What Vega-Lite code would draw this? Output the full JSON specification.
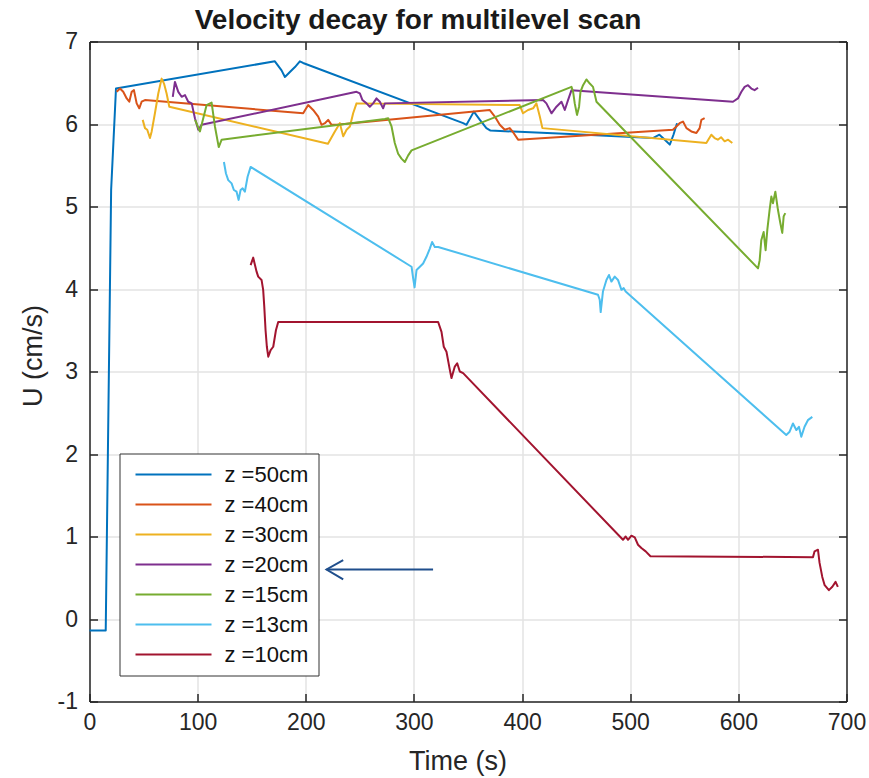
{
  "$schema": "https://vega.github.io/schema/vega-lite/v6.json",
  "autosize": {"type": "none"},
  "width": 757,
  "height": 660,
  "padding": {"left": 89.5, "top": 41.5, "right": 22, "bottom": 76},
  "background": "white",
  "title": {
    "text": "Velocity decay for multilevel scan",
    "font": "Liberation Sans",
    "fontSize": 28,
    "fontWeight": "bold",
    "color": "#1a1a1a",
    "anchor": "middle",
    "dx": -50,
    "dy": 12,
    "offset": 8
  },
  "datasets": {
    "scan": [
      {"z": "z =50cm", "t": 0, "u": -0.14}, {"z": "z =50cm", "t": 15, "u": -0.14}, {"z": "z =50cm", "t": 17, "u": 2.0}, {"z": "z =50cm", "t": 20, "u": 5.2}, {"z": "z =50cm", "t": 24.5, "u": 6.43},
      {"z": "z =50cm", "t": 171.4, "u": 6.76}, {"z": "z =50cm", "t": 177.6, "u": 6.65}, {"z": "z =50cm", "t": 180.7, "u": 6.57}, {"z": "z =50cm", "t": 185.3, "u": 6.63}, {"z": "z =50cm", "t": 190, "u": 6.69},
      {"z": "z =50cm", "t": 194.5, "u": 6.76}, {"z": "z =50cm", "t": 197.5, "u": 6.74}, {"z": "z =50cm", "t": 345.5, "u": 6.01}, {"z": "z =50cm", "t": 348.6, "u": 5.99}, {"z": "z =50cm", "t": 355.4, "u": 6.15},
      {"z": "z =50cm", "t": 361, "u": 6.05}, {"z": "z =50cm", "t": 367, "u": 5.95}, {"z": "z =50cm", "t": 370.8, "u": 5.92}, {"z": "z =50cm", "t": 444, "u": 5.88}, {"z": "z =50cm", "t": 521, "u": 5.83},
      {"z": "z =50cm", "t": 527, "u": 5.87}, {"z": "z =50cm", "t": 532, "u": 5.81}, {"z": "z =50cm", "t": 536.6, "u": 5.75}, {"z": "z =50cm", "t": 540, "u": 5.87}, {"z": "z =50cm", "t": 543.3, "u": 6.01},

      {"z": "z =40cm", "t": 25.1, "u": 6.39}, {"z": "z =40cm", "t": 28.2, "u": 6.43}, {"z": "z =40cm", "t": 31.2, "u": 6.39}, {"z": "z =40cm", "t": 34.4, "u": 6.31}, {"z": "z =40cm", "t": 36.8, "u": 6.27},
      {"z": "z =40cm", "t": 39, "u": 6.39}, {"z": "z =40cm", "t": 41.1, "u": 6.41}, {"z": "z =40cm", "t": 43.6, "u": 6.25}, {"z": "z =40cm", "t": 46, "u": 6.19}, {"z": "z =40cm", "t": 48.2, "u": 6.27},
      {"z": "z =40cm", "t": 51.3, "u": 6.29}, {"z": "z =40cm", "t": 197.6, "u": 6.13}, {"z": "z =40cm", "t": 202.2, "u": 6.23}, {"z": "z =40cm", "t": 206.8, "u": 6.17}, {"z": "z =40cm", "t": 211.5, "u": 6.09},
      {"z": "z =40cm", "t": 214.6, "u": 5.99}, {"z": "z =40cm", "t": 217.7, "u": 6.01}, {"z": "z =40cm", "t": 220.7, "u": 6.05}, {"z": "z =40cm", "t": 223.8, "u": 5.99}, {"z": "z =40cm", "t": 228.5, "u": 5.99},
      {"z": "z =40cm", "t": 370, "u": 6.17}, {"z": "z =40cm", "t": 374.8, "u": 6.09}, {"z": "z =40cm", "t": 379.4, "u": 5.99}, {"z": "z =40cm", "t": 384, "u": 5.93}, {"z": "z =40cm", "t": 388.6, "u": 5.95},
      {"z": "z =40cm", "t": 391.7, "u": 5.9}, {"z": "z =40cm", "t": 396.3, "u": 5.81}, {"z": "z =40cm", "t": 539.5, "u": 5.93}, {"z": "z =40cm", "t": 542.7, "u": 5.97}, {"z": "z =40cm", "t": 545.7, "u": 6.01},
      {"z": "z =40cm", "t": 548.8, "u": 6.03}, {"z": "z =40cm", "t": 552, "u": 5.95}, {"z": "z =40cm", "t": 556.5, "u": 5.91}, {"z": "z =40cm", "t": 561.2, "u": 5.89}, {"z": "z =40cm", "t": 564.2, "u": 5.95},
      {"z": "z =40cm", "t": 565.8, "u": 6.05}, {"z": "z =40cm", "t": 568.8, "u": 6.07},

      {"z": "z =30cm", "t": 49.2, "u": 6.05}, {"z": "z =30cm", "t": 51.3, "u": 5.95}, {"z": "z =30cm", "t": 53.4, "u": 5.93}, {"z": "z =30cm", "t": 55.9, "u": 5.83}, {"z": "z =30cm", "t": 57.5, "u": 5.91},
      {"z": "z =30cm", "t": 60.5, "u": 6.13}, {"z": "z =30cm", "t": 63.6, "u": 6.37}, {"z": "z =30cm", "t": 66.7, "u": 6.55}, {"z": "z =30cm", "t": 68.9, "u": 6.49}, {"z": "z =30cm", "t": 71.3, "u": 6.37},
      {"z": "z =30cm", "t": 73.8, "u": 6.21}, {"z": "z =30cm", "t": 220.5, "u": 5.76}, {"z": "z =30cm", "t": 226.9, "u": 5.91}, {"z": "z =30cm", "t": 231.5, "u": 6.01}, {"z": "z =30cm", "t": 234.6, "u": 5.85},
      {"z": "z =30cm", "t": 237.7, "u": 5.93}, {"z": "z =30cm", "t": 240.8, "u": 5.97}, {"z": "z =30cm", "t": 243.8, "u": 6.13}, {"z": "z =30cm", "t": 246.9, "u": 6.25}, {"z": "z =30cm", "t": 397.8, "u": 6.23},
      {"z": "z =30cm", "t": 400.9, "u": 6.13}, {"z": "z =30cm", "t": 405.5, "u": 6.17}, {"z": "z =30cm", "t": 410.2, "u": 6.19}, {"z": "z =30cm", "t": 413.3, "u": 6.25}, {"z": "z =30cm", "t": 416.4, "u": 6.09},
      {"z": "z =30cm", "t": 418.8, "u": 5.95}, {"z": "z =30cm", "t": 570.4, "u": 5.77}, {"z": "z =30cm", "t": 575, "u": 5.87}, {"z": "z =30cm", "t": 578, "u": 5.83}, {"z": "z =30cm", "t": 581, "u": 5.81},
      {"z": "z =30cm", "t": 584, "u": 5.84}, {"z": "z =30cm", "t": 587.3, "u": 5.79}, {"z": "z =30cm", "t": 590.5, "u": 5.81}, {"z": "z =30cm", "t": 594.4, "u": 5.77},

      {"z": "z =20cm", "t": 77, "u": 6.33}, {"z": "z =20cm", "t": 79, "u": 6.51}, {"z": "z =20cm", "t": 82.1, "u": 6.39}, {"z": "z =20cm", "t": 85.2, "u": 6.33}, {"z": "z =20cm", "t": 88.3, "u": 6.35},
      {"z": "z =20cm", "t": 91.3, "u": 6.27}, {"z": "z =20cm", "t": 94.5, "u": 6.25}, {"z": "z =20cm", "t": 97.5, "u": 6.07}, {"z": "z =20cm", "t": 100.6, "u": 5.93}, {"z": "z =20cm", "t": 103.7, "u": 5.99},
      {"z": "z =20cm", "t": 246.9, "u": 6.39}, {"z": "z =20cm", "t": 250, "u": 6.37}, {"z": "z =20cm", "t": 252.4, "u": 6.29}, {"z": "z =20cm", "t": 256.2, "u": 6.25}, {"z": "z =20cm", "t": 259.2, "u": 6.21},
      {"z": "z =20cm", "t": 262.3, "u": 6.25}, {"z": "z =20cm", "t": 265.4, "u": 6.31}, {"z": "z =20cm", "t": 268.5, "u": 6.27}, {"z": "z =20cm", "t": 271.5, "u": 6.19}, {"z": "z =20cm", "t": 273.1, "u": 6.25},
      {"z": "z =20cm", "t": 419.4, "u": 6.29}, {"z": "z =20cm", "t": 422.5, "u": 6.25}, {"z": "z =20cm", "t": 427.2, "u": 6.13}, {"z": "z =20cm", "t": 431.8, "u": 6.21}, {"z": "z =20cm", "t": 436.4, "u": 6.27},
      {"z": "z =20cm", "t": 439.5, "u": 6.17}, {"z": "z =20cm", "t": 442.5, "u": 6.29}, {"z": "z =20cm", "t": 445.7, "u": 6.41}, {"z": "z =20cm", "t": 595, "u": 6.27}, {"z": "z =20cm", "t": 599.6, "u": 6.31},
      {"z": "z =20cm", "t": 602.8, "u": 6.39}, {"z": "z =20cm", "t": 605.8, "u": 6.45}, {"z": "z =20cm", "t": 608.9, "u": 6.47}, {"z": "z =20cm", "t": 612, "u": 6.43}, {"z": "z =20cm", "t": 615, "u": 6.41},
      {"z": "z =20cm", "t": 618.2, "u": 6.44},

      {"z": "z =15cm", "t": 97.6, "u": 6.05}, {"z": "z =15cm", "t": 102.1, "u": 5.91}, {"z": "z =15cm", "t": 108.3, "u": 6.23}, {"z": "z =15cm", "t": 112.9, "u": 6.26}, {"z": "z =15cm", "t": 116, "u": 5.97},
      {"z": "z =15cm", "t": 119.5, "u": 5.72}, {"z": "z =15cm", "t": 122.2, "u": 5.81}, {"z": "z =15cm", "t": 273.1, "u": 6.06}, {"z": "z =15cm", "t": 276.2, "u": 6.07}, {"z": "z =15cm", "t": 279.3, "u": 5.97},
      {"z": "z =15cm", "t": 282.3, "u": 5.77}, {"z": "z =15cm", "t": 285.4, "u": 5.64}, {"z": "z =15cm", "t": 288.5, "u": 5.58}, {"z": "z =15cm", "t": 291.6, "u": 5.54}, {"z": "z =15cm", "t": 294.7, "u": 5.62},
      {"z": "z =15cm", "t": 297.8, "u": 5.68}, {"z": "z =15cm", "t": 445.7, "u": 6.45}, {"z": "z =15cm", "t": 447.2, "u": 6.39}, {"z": "z =15cm", "t": 448.7, "u": 6.25}, {"z": "z =15cm", "t": 450.8, "u": 6.11},
      {"z": "z =15cm", "t": 452.7, "u": 6.21}, {"z": "z =15cm", "t": 454, "u": 6.39}, {"z": "z =15cm", "t": 456.4, "u": 6.47}, {"z": "z =15cm", "t": 459.5, "u": 6.54}, {"z": "z =15cm", "t": 462.6, "u": 6.49},
      {"z": "z =15cm", "t": 465.6, "u": 6.45}, {"z": "z =15cm", "t": 468.8, "u": 6.27}, {"z": "z =15cm", "t": 618.2, "u": 4.25}, {"z": "z =15cm", "t": 619.7, "u": 4.35}, {"z": "z =15cm", "t": 621.2, "u": 4.59},
      {"z": "z =15cm", "t": 623.4, "u": 4.69}, {"z": "z =15cm", "t": 625.2, "u": 4.47}, {"z": "z =15cm", "t": 626.8, "u": 4.72}, {"z": "z =15cm", "t": 628.9, "u": 4.96}, {"z": "z =15cm", "t": 630.5, "u": 5.12},
      {"z": "z =15cm", "t": 632, "u": 5.04}, {"z": "z =15cm", "t": 634.2, "u": 5.18}, {"z": "z =15cm", "t": 636.6, "u": 4.96}, {"z": "z =15cm", "t": 638.8, "u": 4.8}, {"z": "z =15cm", "t": 640.6, "u": 4.68},
      {"z": "z =15cm", "t": 641.9, "u": 4.88}, {"z": "z =15cm", "t": 643.4, "u": 4.92},

      {"z": "z =13cm", "t": 124.3, "u": 5.54}, {"z": "z =13cm", "t": 126.2, "u": 5.4}, {"z": "z =13cm", "t": 128.3, "u": 5.32}, {"z": "z =13cm", "t": 131.4, "u": 5.28}, {"z": "z =13cm", "t": 133.5, "u": 5.2},
      {"z": "z =13cm", "t": 136, "u": 5.18}, {"z": "z =13cm", "t": 137.9, "u": 5.08}, {"z": "z =13cm", "t": 139.7, "u": 5.2}, {"z": "z =13cm", "t": 141.6, "u": 5.22}, {"z": "z =13cm", "t": 143.7, "u": 5.18},
      {"z": "z =13cm", "t": 146.2, "u": 5.36}, {"z": "z =13cm", "t": 149, "u": 5.48}, {"z": "z =13cm", "t": 297.8, "u": 4.27}, {"z": "z =13cm", "t": 299.3, "u": 4.13}, {"z": "z =13cm", "t": 300.6, "u": 4.02},
      {"z": "z =13cm", "t": 302.4, "u": 4.23}, {"z": "z =13cm", "t": 305.5, "u": 4.27}, {"z": "z =13cm", "t": 308.5, "u": 4.31}, {"z": "z =13cm", "t": 311.6, "u": 4.39}, {"z": "z =13cm", "t": 314.7, "u": 4.49},
      {"z": "z =13cm", "t": 316.8, "u": 4.57}, {"z": "z =13cm", "t": 319.3, "u": 4.51}, {"z": "z =13cm", "t": 322.4, "u": 4.51}, {"z": "z =13cm", "t": 470.2, "u": 3.93}, {"z": "z =13cm", "t": 471.8, "u": 3.87},
      {"z": "z =13cm", "t": 472.7, "u": 3.72}, {"z": "z =13cm", "t": 474.8, "u": 3.97}, {"z": "z =13cm", "t": 478, "u": 4.11}, {"z": "z =13cm", "t": 480.4, "u": 4.17}, {"z": "z =13cm", "t": 482.6, "u": 4.09},
      {"z": "z =13cm", "t": 485.7, "u": 4.15}, {"z": "z =13cm", "t": 488.7, "u": 4.11}, {"z": "z =13cm", "t": 491.9, "u": 3.99}, {"z": "z =13cm", "t": 494, "u": 4.01}, {"z": "z =13cm", "t": 495.8, "u": 3.97},
      {"z": "z =13cm", "t": 644.3, "u": 2.23}, {"z": "z =13cm", "t": 647.4, "u": 2.27}, {"z": "z =13cm", "t": 650.5, "u": 2.37}, {"z": "z =13cm", "t": 653.6, "u": 2.29}, {"z": "z =13cm", "t": 656, "u": 2.33},
      {"z": "z =13cm", "t": 658.2, "u": 2.21}, {"z": "z =13cm", "t": 661.2, "u": 2.33}, {"z": "z =13cm", "t": 664.3, "u": 2.41}, {"z": "z =13cm", "t": 668.4, "u": 2.45},

      {"z": "z =10cm", "t": 149, "u": 4.29}, {"z": "z =10cm", "t": 151.4, "u": 4.38}, {"z": "z =10cm", "t": 153, "u": 4.29}, {"z": "z =10cm", "t": 154.5, "u": 4.21}, {"z": "z =10cm", "t": 156, "u": 4.15},
      {"z": "z =10cm", "t": 159.1, "u": 4.11}, {"z": "z =10cm", "t": 160.6, "u": 3.99}, {"z": "z =10cm", "t": 161.6, "u": 3.79}, {"z": "z =10cm", "t": 162.8, "u": 3.5}, {"z": "z =10cm", "t": 164, "u": 3.3},
      {"z": "z =10cm", "t": 165.3, "u": 3.18}, {"z": "z =10cm", "t": 167.5, "u": 3.26}, {"z": "z =10cm", "t": 169.9, "u": 3.3}, {"z": "z =10cm", "t": 172.4, "u": 3.5}, {"z": "z =10cm", "t": 174.5, "u": 3.6},
      {"z": "z =10cm", "t": 322.4, "u": 3.6}, {"z": "z =10cm", "t": 325.5, "u": 3.48}, {"z": "z =10cm", "t": 327.6, "u": 3.3}, {"z": "z =10cm", "t": 330.1, "u": 3.24}, {"z": "z =10cm", "t": 333.2, "u": 3.02},
      {"z": "z =10cm", "t": 334.7, "u": 2.92}, {"z": "z =10cm", "t": 337.8, "u": 3.06}, {"z": "z =10cm", "t": 340, "u": 3.1}, {"z": "z =10cm", "t": 342.4, "u": 3.0}, {"z": "z =10cm", "t": 345.5, "u": 2.98},
      {"z": "z =10cm", "t": 493.3, "u": 0.96}, {"z": "z =10cm", "t": 495.8, "u": 1.0}, {"z": "z =10cm", "t": 498, "u": 0.96}, {"z": "z =10cm", "t": 501.1, "u": 1.01}, {"z": "z =10cm", "t": 504.2, "u": 0.99},
      {"z": "z =10cm", "t": 507.2, "u": 0.9}, {"z": "z =10cm", "t": 510.3, "u": 0.86}, {"z": "z =10cm", "t": 514.3, "u": 0.82}, {"z": "z =10cm", "t": 518.7, "u": 0.76}, {"z": "z =10cm", "t": 669, "u": 0.75},
      {"z": "z =10cm", "t": 670.5, "u": 0.82}, {"z": "z =10cm", "t": 673.6, "u": 0.84}, {"z": "z =10cm", "t": 675.1, "u": 0.68}, {"z": "z =10cm", "t": 677.6, "u": 0.51}, {"z": "z =10cm", "t": 679.8, "u": 0.41},
      {"z": "z =10cm", "t": 683.7, "u": 0.35}, {"z": "z =10cm", "t": 686.9, "u": 0.39}, {"z": "z =10cm", "t": 689.9, "u": 0.45}, {"z": "z =10cm", "t": 692, "u": 0.39}
    ],
    "arrow": [
      {"part": "shaft", "i": 0, "t": 317.7, "u": 0.6},
      {"part": "shaft", "i": 1, "t": 219.2, "u": 0.6},
      {"part": "head", "i": 0, "t": 234.6, "u": 0.715},
      {"part": "head", "i": 1, "t": 219.2, "u": 0.6},
      {"part": "head", "i": 2, "t": 234.6, "u": 0.48}
    ]
  },
  "layer": [
    {
      "data": {"name": "scan"},
      "mark": {"type": "line", "strokeWidth": 2, "strokeJoin": "round"},
      "encoding": {
        "x": {
          "field": "t", "type": "quantitative",
          "scale": {"domain": [0, 700], "nice": false},
          "axis": {
            "title": "Time (s)",
            "values": [0, 100, 200, 300, 400, 500, 600, 700],
            "grid": true,
            "labelFlush": false,
            "tickSize": -8,
            "labelPadding": 18,
            "titlePadding": 14,
            "titleX": 368
          }
        },
        "y": {
          "field": "u", "type": "quantitative",
          "scale": {"domain": [-1, 7], "nice": false},
          "axis": {
            "title": "U (cm/s)",
            "values": [-1, 0, 1, 2, 3, 4, 5, 6, 7],
            "labelExpr": "replace(datum.label, '\u2212', '-')",
            "grid": true,
            "labelFlush": false,
            "tickSize": -8,
            "labelPadding": 20,
            "titlePadding": 10,
            "titleY": 314
          }
        },
        "color": {
          "field": "z", "type": "nominal",
          "scale": {
            "domain": ["z =50cm", "z =40cm", "z =30cm", "z =20cm", "z =15cm", "z =13cm", "z =10cm"],
            "range": ["#0072BD", "#D95319", "#EDB120", "#7E2F8E", "#77AC30", "#4DBEEE", "#A2142F"]
          },
          "legend": {
            "title": null,
            "orient": "none",
            "legendX": 30,
            "legendY": 412,
            "symbolType": "stroke",
            "symbolSize": 5776,
            "symbolStrokeWidth": 2,
            "symbolOffset": 5,
            "labelOffset": 12,
            "clipHeight": 22,
            "rowPadding": 8,
            "padding": 10,
            "strokeColor": "#333333",
            "fillColor": "white",
            "labelFont": "Liberation Sans",
            "labelFontSize": 22,
            "labelColor": "#111111"
          }
        }
      }
    },
    {
      "data": {"name": "arrow"},
      "mark": {"type": "line", "color": "#1f4e8c", "strokeWidth": 2},
      "encoding": {
        "x": {
          "field": "t", "type": "quantitative",
          "axis": {"orient": "top", "title": null, "labels": false, "grid": false, "tickSize": -8, "values": [0, 100, 200, 300, 400, 500, 600, 700]}
        },
        "y": {
          "field": "u", "type": "quantitative",
          "axis": {"orient": "right", "title": null, "labels": false, "grid": false, "tickSize": -8, "values": [-1, 0, 1, 2, 3, 4, 5, 6, 7]}
        },
        "detail": {"field": "part"},
        "order": {"field": "i"}
      }
    }
  ],
  "resolve": {"axis": {"x": "independent", "y": "independent"}},
  "config": {
    "view": {"stroke": null},
    "axis": {
      "domainColor": "#262626",
      "domainWidth": 1.5,
      "tickColor": "#262626",
      "tickWidth": 1.5,
      "gridColor": "#e3e3e3",
      "gridWidth": 1.5,
      "gridOpacity": 1,
      "labelFont": "Liberation Sans",
      "labelFontSize": 23,
      "labelColor": "#262626",
      "titleFont": "Liberation Sans",
      "titleFontSize": 27,
      "titleFontWeight": "normal",
      "titleColor": "#262626"
    }
  }
}
